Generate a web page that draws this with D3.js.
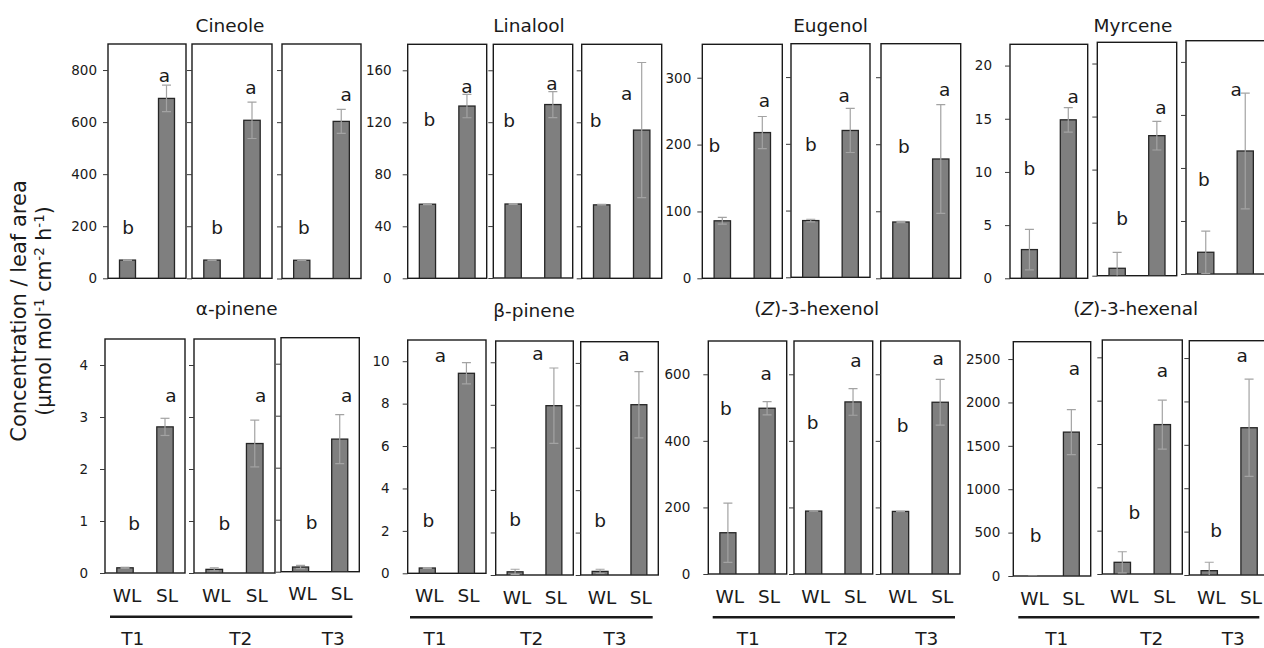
<!DOCTYPE html>
<html>
<head>
<meta charset="utf-8">
<script src="https://cdn.jsdelivr.net/npm/d3@7/dist/d3.min.js"></script>
<style>
  body { margin: 0; background: #fff; }
  svg { display: block; }
</style>
</head>
<body>
<svg id="chart" width="1264" height="648"></svg>
<script>
// ---------- data ----------
const periods = ["T1", "T2", "T3"];
const treatments = ["WL", "SL"];
const compounds = ["Cineole", "Linalool", "Eugenol", "Myrcene",
                   "α-pinene", "β-pinene", "(Z)-3-hexenol", "(Z)-3-hexenal"];
const sigLetters = ["b", "a"];

// mean concentration per period, [WL, SL]
const cineoleMean  = [[70, 691], [70, 607], [70, 603]];
const cineoleSE    = [[1, 51], [1, 70], [1, 46]];
const linaloolMean = [[57, 132.5], [57, 133.6], [56.5, 114]];
const linaloolSE   = [[0.3, 9], [0.3, 10], [0.3, 52]];
const eugenolMean  = [[86, 218], [85, 220], [84, 178]];
const eugenolSE    = [[5, 24], [2, 33], [1, 81]];
const myrceneMean  = [[2.7, 14.9], [0.7, 13.2], [2.05, 11.6]];
const myrceneSE    = [[1.9, 1.15], [1.5, 1.35], [2.0, 5.45]];
const aPineneMean  = [[0.10, 2.81], [0.07, 2.49], [0.09, 2.55]];
const aPineneSE    = [[0.01, 0.165], [0.03, 0.45], [0.03, 0.47]];
const bPineneMean  = [[0.25, 9.43], [0.15, 7.96], [0.17, 8.03]];
const bPineneSE    = [[0.02, 0.5], [0.12, 1.77], [0.1, 1.56]];
const hexenolMean  = [[124, 498], [189, 517], [188, 516]];
const hexenolSE    = [[89, 20], [0.5, 40], [0.5, 69]];
const hexenalMean  = [[0, 1658], [135, 1724], [50, 1697]];
const hexenalSE    = [[0, 260], [122, 282], [97, 560]];

// height (in data units) at which each significance letter is written, [b, a]
const cineoleLetterAt  = [[197, 781], [197, 735], [197, 708]];
const linaloolLetterAt = [[122, 148], [121.5, 150], [121.5, 142]];
const eugenolLetterAt  = [[199, 266], [199, 272], [197, 282]];
const myrceneLetterAt  = [[10.3, 17.1], [5.4, 15.9], [8.9, 17.45]];
const aPineneLetterAt  = [[0.95, 3.42], [0.95, 3.42], [0.94, 3.39]];
const bPineneLetterAt  = [[2.5, 10.3], [2.6, 10.4], [2.6, 10.4]];
const hexenolLetterAt  = [[497, 604], [455, 642], [447, 647]];
const hexenalLetterAt  = [[473, 2395], [710, 2355], [512, 2529]];

// value axis: upper bound and tick labels
const yMax = [900, 180, 350, 22, 4.5, 11, 700, 2700];
const yTicks = [
  [0, 200, 400, 600, 800],
  [0, 40, 80, 120, 160],
  [0, 100, 200, 300],
  [0, 5, 10, 15, 20],
  [0, 1, 2, 3, 4],
  [0, 2, 4, 6, 8, 10],
  [0, 200, 400, 600],
  [0, 500, 1000, 1500, 2000, 2500]
];

const means = [cineoleMean, linaloolMean, eugenolMean, myrceneMean,
               aPineneMean, bPineneMean, hexenolMean, hexenalMean];
const ses = [cineoleSE, linaloolSE, eugenolSE, myrceneSE,
             aPineneSE, bPineneSE, hexenolSE, hexenalSE];
const letterAt = [cineoleLetterAt, linaloolLetterAt, eugenolLetterAt, myrceneLetterAt,
                  aPineneLetterAt, bPineneLetterAt, hexenolLetterAt, hexenalLetterAt];

// ---------- layout (pixel boxes of each small panel: left, right, top, bottom) ----------
const layout = [
  { panels: [[108, 186, 44, 278.3], [192, 272, 44, 278.3], [282, 361, 44, 278.5]],
    title: [230, 25], tickGap: 11, letterDx: [[0.5, -2], [5, -1], [2, 5]] },
  { panels: [[407.7, 486.7, 44.3, 278.3], [493.3, 572.7, 44.3, 278], [581.7, 661.7, 44.3, 278.3]],
    title: [529, 25], tickGap: 16, letterDx: [[2, 0], [-4, -1], [-6, -15]] },
  { panels: [[702.3, 782.3, 44.3, 278.3], [791, 870, 43.7, 277.3], [881, 960.7, 43.7, 278.3]],
    title: [830.5, 25], tickGap: 11, letterDx: [[-8, 2], [0, -6], [3, 4]] },
  { panels: [[1010, 1087.7, 44.3, 278.3], [1097.3, 1176.7, 42.3, 275.7], [1186, 1265, 40.7, 274]],
    title: [1133, 25], tickGap: 18, letterDx: [[0, 5], [5, 4], [-2, -9]] },
  { panels: [[105, 185, 339, 573], [194, 275, 339, 573], [281, 359.3, 337.7, 571.7]],
    title: [236.7, 308.3], tickGap: 17, letterDx: [[9, 6], [10, 6], [11, 7]],
    bracket: [110, 352.3, 616.7], periodX: [132.7, 240.7, 333.3] },
  { panels: [[407.7, 486, 340, 573.3], [495.7, 573.3, 341, 575], [580.7, 658.3, 341.7, 575]],
    title: [534, 310], tickGap: 18, letterDx: [[1, -26], [0, -16], [0, -15]],
    bracket: [410, 652.7, 617.3], periodX: [435, 531.7, 615] },
  { panels: [[708.3, 786.7, 341, 574], [794, 872.7, 341, 574], [880.7, 960, 341, 574]],
    title: [816.7, 308.3], tickGap: 18, letterDx: [[-2, -1], [-1, 3], [2, -2]],
    bracket: [712.7, 955, 617.3], periodX: [748.3, 836.7, 926.7] },
  { panels: [[1013.3, 1090.7, 341.7, 576], [1102.3, 1182.3, 340, 574], [1189.3, 1269, 340.7, 575]],
    title: [1135.7, 308.3], tickGap: 13, letterDx: [[3, 3], [12, 0], [7, -7]],
    bracket: [1018.3, 1259.3, 617.3], periodX: [1056.7, 1151.7, 1233.3] }
];

// ---------- styles ----------
const INK = "#1a1a1a";
const BAR_FILL = "#7f7f7f";
const BAR_EDGE = "#262626";
const ERR = "#a3a3a3";
const SANS = "'DejaVu Sans', Verdana, sans-serif";
const TICK_LEN = 5;

const svg = d3.select("#chart");
const defs = svg.append("defs");

compounds.forEach((name, ci) => {
  const L = layout[ci];
  const isBottomRow = !!L.bracket;

  // compound title, with an italic Z for the hexenol / hexenal isomers
  const title = svg.append("text")
    .attr("x", L.title[0]).attr("y", L.title[1])
    .attr("dy", "0.36em")
    .attr("text-anchor", "middle")
    .attr("font-family", SANS).attr("font-size", 18.5)
    .attr("fill", INK);
  const m = name.match(/^\((Z)\)(.*)$/);
  if (m) {
    title.append("tspan").text("(");
    title.append("tspan").attr("font-style", "italic").text(m[1]);
    title.append("tspan").text(")" + m[2]);
  } else {
    title.text(name);
  }

  periods.forEach((p, pi) => {
    const [x0, x1, y0, y1] = L.panels[pi];
    const w = x1 - x0, h = y1 - y0;
    const g = svg.append("g").attr("transform", `translate(${x0},${y0})`);

    const x = d3.scaleBand().domain(treatments).range([0, w])
      .paddingInner(0.59).paddingOuter(0.295);
    const y = d3.scaleLinear().domain([0, yMax[ci]]).range([h, 0]);

    const clipId = `clip-${ci}-${pi}`;
    defs.append("clipPath").attr("id", clipId)
      .append("rect").attr("width", w).attr("height", h);

    // panel frame
    g.append("rect")
      .attr("width", w).attr("height", h)
      .attr("fill", "#fff").attr("stroke", INK).attr("stroke-width", 1.4);

    // value axis (labels only on the first period of each compound)
    const axis = d3.axisLeft(y)
      .tickValues(yTicks[ci])
      .tickSize(TICK_LEN)
      .tickPadding(L.tickGap - TICK_LEN)
      .tickFormat(pi === 0 ? d3.format("") : () => "");
    const ag = g.append("g").call(axis);
    ag.select(".domain").remove();
    ag.selectAll(".tick line").attr("stroke", "#3a3a3a").attr("stroke-width", 1);
    ag.selectAll(".tick text")
      .attr("font-family", SANS).attr("font-size", 13.5).attr("fill", INK);

    const rows = treatments.map((t, ti) => ({
      t, ti,
      v: means[ci][pi][ti],
      e: ses[ci][pi][ti],
      ly: letterAt[ci][pi][ti],
      dx: L.letterDx[pi][ti]
    }));

    const plot = g.append("g").attr("clip-path", `url(#${clipId})`);

    // bars
    plot.selectAll("rect.bar").data(rows).join("rect")
      .attr("class", "bar")
      .attr("x", d => x(d.t))
      .attr("width", x.bandwidth())
      .attr("y", d => y(d.v))
      .attr("height", d => y(0) - y(d.v))
      .attr("fill", BAR_FILL)
      .attr("stroke", BAR_EDGE).attr("stroke-width", 1.3);

    // error bars (mean ± SE), lower whisker stopped at zero
    const cap = 4.5;
    const eg = plot.selectAll("g.err").data(rows).join("g").attr("class", "err")
      .attr("stroke", ERR).attr("stroke-width", 1.2);
    eg.append("line")
      .attr("x1", d => x(d.t) + x.bandwidth() / 2)
      .attr("x2", d => x(d.t) + x.bandwidth() / 2)
      .attr("y1", d => y(d.v + d.e))
      .attr("y2", d => y(Math.max(0, d.v - d.e)));
    eg.append("line")
      .attr("x1", d => x(d.t) + x.bandwidth() / 2 - cap)
      .attr("x2", d => x(d.t) + x.bandwidth() / 2 + cap)
      .attr("y1", d => y(d.v + d.e)).attr("y2", d => y(d.v + d.e));
    eg.filter(d => d.v - d.e > 0).append("line")
      .attr("x1", d => x(d.t) + x.bandwidth() / 2 - cap)
      .attr("x2", d => x(d.t) + x.bandwidth() / 2 + cap)
      .attr("y1", d => y(d.v - d.e)).attr("y2", d => y(d.v - d.e));

    // significance letters
    g.selectAll("text.sig").data(rows).join("text")
      .attr("class", "sig")
      .attr("x", d => x(d.t) + x.bandwidth() / 2 + d.dx)
      .attr("y", d => y(d.ly))
      .attr("dy", "0.36em")
      .attr("text-anchor", "middle")
      .attr("font-family", SANS).attr("font-size", 18.5)
      .attr("fill", INK)
      .text(d => sigLetters[d.ti]);

    // treatment labels under the bottom row
    if (isBottomRow) {
      g.selectAll("text.trt").data(treatments).join("text")
        .attr("class", "trt")
        .attr("x", t => x(t) + x.bandwidth() / 2 + 2)
        .attr("y", h + 22)
        .attr("dy", "0.36em")
        .attr("text-anchor", "middle")
        .attr("font-family", SANS).attr("font-size", 18.5)
        .attr("fill", INK)
        .text(t => t);
    }
  });

  // period bracket and period labels
  if (isBottomRow) {
    const [bx0, bx1, by] = L.bracket;
    svg.append("line")
      .attr("x1", bx0).attr("x2", bx1).attr("y1", by).attr("y2", by)
      .attr("stroke", INK).attr("stroke-width", 2.6);
    svg.selectAll(null).data(periods).join("text")
      .attr("x", (p, i) => L.periodX[i])
      .attr("y", 638.5)
      .attr("dy", "0.36em")
      .attr("text-anchor", "middle")
      .attr("font-family", SANS).attr("font-size", 18.5)
      .attr("fill", INK)
      .text(p => p);
  }
});

// shared value-axis title
svg.append("text")
  .attr("transform", "translate(18,311) rotate(-90)")
  .attr("text-anchor", "middle")
  .attr("dy", "0.36em")
  .attr("font-family", SANS).attr("font-size", 21)
  .attr("fill", INK)
  .text("Concentration  / leaf area");

// unit line: superscript exponents raised, following text dropped back to the baseline
const unit = svg.append("text")
  .attr("transform", "translate(44,311) rotate(-90)")
  .attr("text-anchor", "middle")
  .attr("dy", "0.36em")
  .attr("font-family", SANS).attr("font-size", 20.5)
  .attr("fill", INK);
const SUP_SHIFT = 7;
let raised = false;
[["(µmol mol", false], ["-1", true], [" cm", false], ["-2", true],
 [" h", false], ["-1", true], [")", false]].forEach(([s, sup]) => {
  const ts = unit.append("tspan").text(s);
  if (sup) {
    ts.attr("dy", -SUP_SHIFT).attr("font-size", 13.5);
    raised = true;
  } else if (raised) {
    ts.attr("dy", SUP_SHIFT);
    raised = false;
  }
});
</script>
</body>
</html>
